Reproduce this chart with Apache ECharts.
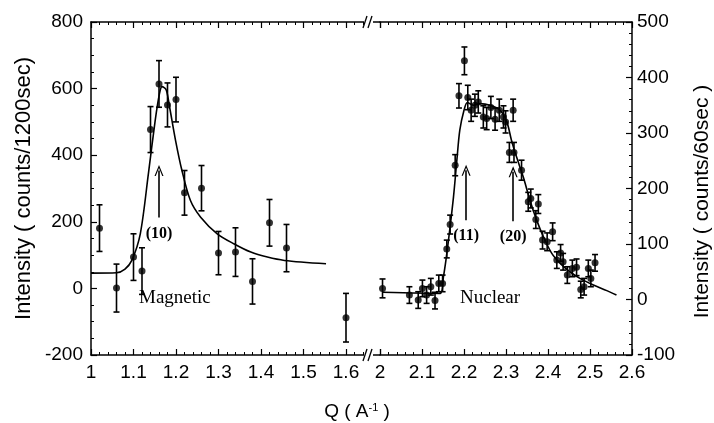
<!DOCTYPE html>
<html><head><meta charset="utf-8">
<script src="https://cdn.jsdelivr.net/npm/echarts@6/dist/echarts.min.js"></script>
<style>html,body{margin:0;padding:0;background:#fff}#c{width:714px;height:423px}</style>
</head><body><div id="c"></div>
<script>
// Magnetic (left axis, counts/1200sec)
const magQ   = [1.02, 1.06, 1.10, 1.12, 1.14, 1.16, 1.18, 1.20, 1.22, 1.26, 1.30, 1.34, 1.38, 1.42, 1.46, 1.60];
const magI   = [181, 1, 94, 52, 477, 614, 551, 567, 287, 301, 106, 109, 21, 197, 121, -88];
const magErr = [70, 72, 70, 70, 69, 70, 66, 67, 67, 68, 65, 73, 68, 70, 71, 73];
const magFitQ = [1.00, 1.06, 1.08, 1.096, 1.116, 1.135, 1.151, 1.161, 1.167, 1.177, 1.185, 1.199, 1.214, 1.234, 1.258, 1.297, 1.336, 1.376, 1.415, 1.455, 1.553];
const magFitI = [46, 47, 58, 84, 164, 344, 504, 584, 606, 596, 544, 444, 354, 264, 214, 164, 134, 109, 94, 84, 74];
// Nuclear (right axis, counts/60sec)
const nucQ   = [2.006, 2.070, 2.091, 2.101, 2.111, 2.121, 2.131, 2.140, 2.149, 2.159, 2.167, 2.179, 2.188, 2.201, 2.209, 2.217, 2.226, 2.234, 2.246, 2.254, 2.264, 2.274, 2.284, 2.294, 2.299, 2.317, 2.308, 2.319, 2.337, 2.353, 2.359, 2.377, 2.371, 2.387, 2.398, 2.411, 2.421, 2.430, 2.436, 2.446, 2.458, 2.468, 2.478, 2.486, 2.496, 2.502, 2.512];
const nucI   = [20, 8, -1, 20, 8, 23, -2, 29, 29, 91, 135, 242, 367, 430, 364, 341, 350, 356, 329, 326, 346, 325, 341, 329, 320, 341, 265, 265, 233, 176, 182, 172, 144, 107, 104, 122, 71, 84, 68, 44, 56, 58, 18, 23, 56, 38, 66];
const nucErr = [17, 15, 15, 15, 15, 15, 15, 15, 15, 16, 17, 19, 22, 25, 22, 20, 20, 20, 20, 20, 20, 20, 20, 20, 20, 20, 18, 18, 18, 17, 17, 17, 16, 16, 16, 16, 15, 15, 15, 15, 15, 15, 15, 15, 15, 15, 15];
const nucFitQ = [2.006, 2.143, 2.151, 2.157, 2.165, 2.175, 2.183, 2.19, 2.20, 2.208, 2.222, 2.238, 2.262, 2.286, 2.302, 2.313, 2.325, 2.341, 2.357, 2.373, 2.389, 2.409, 2.429, 2.452, 2.476, 2.508, 2.54, 2.563];
const nucFitI = [13, 11, 41, 71, 119, 185, 251, 305, 341, 355, 350, 353, 350, 341, 320, 287, 257, 221, 179, 143, 113, 83, 65, 50, 38, 26, 16, 8];
// Axes
const xLeftRange = [1.0, 1.68];
const xRightRange = [2.0, 2.6];
const yLeftRange = [-200, 800];
const yRightRange = [-100, 500];
// Peak markers: [Q, tailValue, headValue, label]
const magPeaks = [[1.16, 213, 354, '(10)']];
const nucPeaks = [[2.205, 143, 233, '(11)'], [2.317, 141, 230, '(20)']];

const FONT = 'Liberation Sans';
const SERIF = 'Liberation Serif';

function errRender(params, api) {
  const x = api.value(0), y = api.value(1), e = api.value(2);
  const hi = api.coord([x, y + e]), lo = api.coord([x, y - e]);
  const w = 3;
  const st = { stroke: '#000', lineWidth: 1.6 };
  return { type: 'group', children: [
    { type: 'line', shape: { x1: hi[0], y1: hi[1], x2: lo[0], y2: lo[1] }, style: st },
    { type: 'line', shape: { x1: hi[0] - w, y1: hi[1], x2: hi[0] + w, y2: hi[1] }, style: st },
    { type: 'line', shape: { x1: lo[0] - w, y1: lo[1], x2: lo[0] + w, y2: lo[1] }, style: st }
  ]};
}

function isTenth(v) { return Math.abs(v * 10 - Math.round(v * 10)) < 1e-6; }

function xAxisDef(grid, range, pos, labels) {
  return {
    type: 'value', gridIndex: grid, position: pos, min: range[0], max: range[1], interval: 0.1,
    axisLine: { show: true, onZero: false, lineStyle: { color: '#000', width: 1.5 } },
    axisTick: { show: true, inside: true, length: 6, lineStyle: { color: '#000', width: 1.2 } },
    minorTick: { show: true, splitNumber: 5, length: 3, lineStyle: { color: '#000', width: 1 } },
    splitLine: { show: false },
    axisLabel: { show: labels, color: '#000', fontSize: 19, fontFamily: FONT, margin: 8,
      showMaxLabel: grid === 1, showMinLabel: true,
      formatter: v => isTenth(v) ? String(Math.round(v * 10) / 10) : '' }
  };
}

const chart = echarts.init(document.getElementById('c'));
const arrowSym = 'path://M0,10 L5,0 L10,10 L8.6,10 L5,2.8 L1.4,10 Z';

function peakLines(peaks) {
  return {
    silent: true, symbol: ['none', arrowSym], symbolSize: [9, 11],
    lineStyle: { color: '#000', width: 1.6, type: 'solid' },
    label: { show: true, position: 'start', distance: 8, color: '#000', fontFamily: SERIF, fontSize: 16,
      fontWeight: 'bold', formatter: p => p.data.name },
    data: peaks.map(p => [{ coord: [p[0], p[1]], name: p[3] }, { coord: [p[0], p[2]] }])
  };
}

chart.setOption({
  animation: false,
  backgroundColor: '#fff',
  grid: [
    { left: 91, top: 22, width: 289, height: 333, outerBoundsMode: 'none', containLabel: false },
    { left: 380, top: 22, width: 252, height: 333, outerBoundsMode: 'none', containLabel: false }
  ],
  xAxis: [
    xAxisDef(0, xLeftRange, 'bottom', true),
    xAxisDef(0, xLeftRange, 'top', false),
    xAxisDef(1, xRightRange, 'bottom', true),
    xAxisDef(1, xRightRange, 'top', false)
  ],
  yAxis: [
    { type: 'value', gridIndex: 0, position: 'left', min: yLeftRange[0], max: yLeftRange[1], interval: 200,
      name: 'Intensity ( counts/1200sec)', nameLocation: 'middle', nameGap: 56,
      nameTextStyle: { color: '#000', fontSize: 22, fontFamily: FONT },
      axisLine: { show: true, onZero: false, lineStyle: { color: '#000', width: 1.5 } },
      axisTick: { show: true, inside: true, length: 6, lineStyle: { color: '#000', width: 1.2 } },
      minorTick: { show: true, splitNumber: 4, length: 3, lineStyle: { color: '#000', width: 1 } },
      splitLine: { show: false },
      axisLabel: { color: '#000', fontSize: 19, fontFamily: FONT, margin: 8 } },
    { type: 'value', gridIndex: 1, position: 'right', min: yRightRange[0], max: yRightRange[1], interval: 100,
      name: 'Intensity ( counts/60sec )', nameLocation: 'middle', nameGap: 60,
      nameTextStyle: { color: '#000', fontSize: 21, fontFamily: FONT, padding: [0, 26, 0, 0] },
      axisLine: { show: true, onZero: false, lineStyle: { color: '#000', width: 1.5 } },
      axisTick: { show: true, inside: true, length: 6, lineStyle: { color: '#000', width: 1.2 } },
      minorTick: { show: true, splitNumber: 5, length: 3, lineStyle: { color: '#000', width: 1 } },
      splitLine: { show: false },
      axisLabel: { color: '#000', fontSize: 19, fontFamily: FONT, margin: 5 } }
  ],
  series: [
    { type: 'custom', xAxisIndex: 0, yAxisIndex: 0, renderItem: errRender,
      data: magQ.map((q, i) => [q, magI[i], magErr[i]]), z: 3 },
    { type: 'scatter', xAxisIndex: 0, yAxisIndex: 0, symbol: 'circle', symbolSize: 7,
      itemStyle: { color: '#000' }, data: magQ.map((q, i) => [q, magI[i]]), z: 4 },
    { type: 'line', xAxisIndex: 0, yAxisIndex: 0, showSymbol: false, smooth: 0.3,
      lineStyle: { color: '#000', width: 1.6 }, data: magFitQ.map((q, i) => [q, magFitI[i]]), z: 2,
      markLine: peakLines(magPeaks) },
    { type: 'custom', xAxisIndex: 2, yAxisIndex: 1, renderItem: errRender,
      data: nucQ.map((q, i) => [q, nucI[i], nucErr[i]]), z: 3 },
    { type: 'scatter', xAxisIndex: 2, yAxisIndex: 1, symbol: 'circle', symbolSize: 7,
      itemStyle: { color: '#000' }, data: nucQ.map((q, i) => [q, nucI[i]]), z: 4 },
    { type: 'line', xAxisIndex: 2, yAxisIndex: 1, showSymbol: false, smooth: 0.3,
      lineStyle: { color: '#000', width: 1.6 }, data: nucFitQ.map((q, i) => [q, nucFitI[i]]), z: 2,
      markLine: peakLines(nucPeaks) }
  ],
  graphic: [
    { type: 'text', left: 139, top: 289, style: { text: 'Magnetic', fill: '#000', font: '19px "Liberation Serif"' } },
    { type: 'text', left: 460, top: 289, style: { text: 'Nuclear', fill: '#000', font: '19px "Liberation Serif"' } },
    { type: 'text', left: 'center', top: 402, style: {
        text: 'Q ( A{s|-1} )', fill: '#000', font: '19px "Liberation Sans"',
        rich: { s: { fontSize: 11, verticalAlign: 'top', fontFamily: FONT, padding: [0, 0, 8, 0] } } } },
    // axis break marks (bottom and top)
    { type: 'rect', shape: { x: 364, y: 351, width: 9, height: 8 }, style: { fill: '#fff' }, z: 100 },
    { type: 'line', shape: { x1: 363, y1: 361, x2: 367, y2: 349 }, style: { stroke: '#000', lineWidth: 1.3 }, z: 101 },
    { type: 'line', shape: { x1: 368, y1: 361, x2: 372, y2: 349 }, style: { stroke: '#000', lineWidth: 1.3 }, z: 101 },
    { type: 'rect', shape: { x: 364, y: 18, width: 9, height: 8 }, style: { fill: '#fff' }, z: 100 },
    { type: 'line', shape: { x1: 363, y1: 28, x2: 367, y2: 16 }, style: { stroke: '#000', lineWidth: 1.3 }, z: 101 },
    { type: 'line', shape: { x1: 368, y1: 28, x2: 372, y2: 16 }, style: { stroke: '#000', lineWidth: 1.3 }, z: 101 }
  ]
});
</script>
</body></html>
